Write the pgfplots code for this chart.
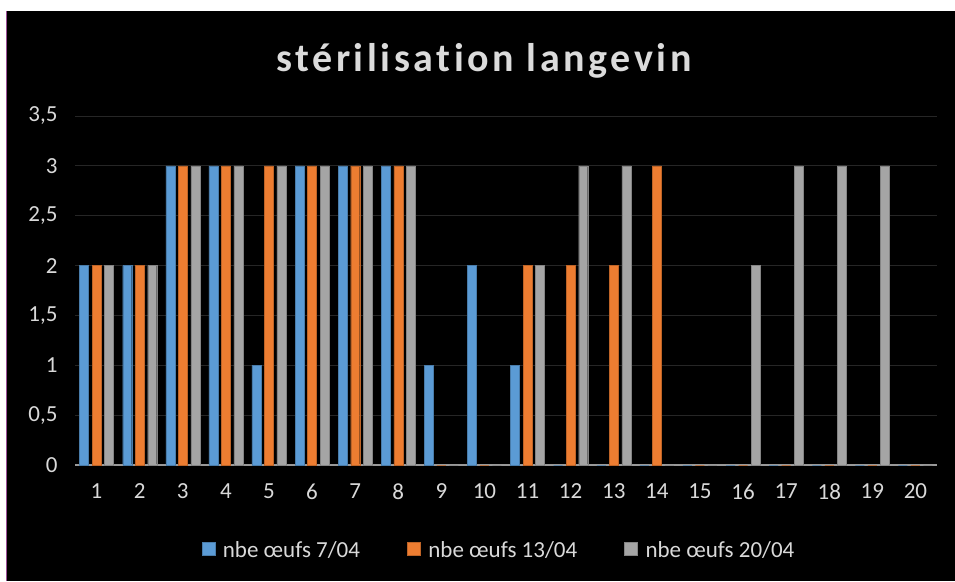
\documentclass[border=0pt]{standalone}
\usepackage{pgfplots}
\pgfplotsset{compat=1.18}
\usepackage{fontspec}
\setmainfont{Carlito}
\newfontfamily\titlefont[LetterSpace=9,Ligatures={NoCommon}]{Carlito}
\definecolor{cblue}{HTML}{5B9BD5}
\definecolor{corange}{HTML}{ED7D31}
\definecolor{cgray}{HTML}{A5A5A5}
\definecolor{ctext}{HTML}{D9D9D9}
\definecolor{cgrid}{HTML}{262626}
\definecolor{cframe}{HTML}{9B4F96}
\begin{document}
\begin{tikzpicture}[x=1pt,y=1pt]
\fill[white] (0,0) rectangle (955,581);
\fill[black] (6,0) rectangle (955,570);
\draw[cframe, line width=1pt] (6.5,0) -- (6.5,570);
\node[text=ctext!95!white, font=\titlefont\fontsize{40}{46}\selectfont\bfseries] at (484,520) {stérilisation langevin};
\begin{axis}[
  at={(75pt,116pt)}, anchor=south west,
  scale only axis, width=862pt, height=349pt,
  xmin=0.5, xmax=20.5, ymin=0, ymax=3.5,
  ybar=3.5pt, bar width=9pt,
  axis line style={draw=none},
  xtick={1,...,20}, ytick={0,0.5,...,3.5},
  major tick length=0pt,
  ymajorgrids, grid style={cgrid, line width=1pt},
  tick label style={text=ctext, font=\fontsize{23}{27}\selectfont},
  /pgf/number format/assume math mode=true,
  /pgf/number format/use comma,
  yticklabel style={/pgf/number format/fixed, /pgf/number format/precision=1},
  xticklabel style={yshift=-15pt},
  yticklabel style={xshift=-14pt},
  legend columns=3,
  legend style={at={(424pt,-85pt)}, anchor=center, draw=none, fill=none,
    text=ctext, font=\fontsize{23}{27}\selectfont,
    /tikz/every even column/.append style={column sep=45pt},
    /tikz/every odd column/.append style={column sep=6pt}},
  legend image code/.code={\fill[#1] (0pt,-5pt) rectangle (13pt,8pt);},
  extra y ticks={0}, extra y tick labels={},
  extra y tick style={grid style={color=gray!80, line width=1.5pt}},
]
\addplot[fill=cblue, draw=cblue!80!black, line width=0.3pt] coordinates {
 (1,2) (2,2) (3,3) (4,3) (5,1) (6,3) (7,3) (8,3) (9,1) (10,2)
 (11,1) (12,0) (13,0) (14,0) (15,0) (16,0) (17,0) (18,0) (19,0) (20,0)};
\addplot[fill=corange, draw=corange!80!black, line width=0.3pt] coordinates {
 (1,2) (2,2) (3,3) (4,3) (5,3) (6,3) (7,3) (8,3) (9,0) (10,0)
 (11,2) (12,2) (13,2) (14,3) (15,0) (16,0) (17,0) (18,0) (19,0) (20,0)};
\addplot[fill=cgray, draw=cgray!80!black, line width=0.3pt] coordinates {
 (1,2) (2,2) (3,3) (4,3) (5,3) (6,3) (7,3) (8,3) (9,0) (10,0)
 (11,2) (12,3) (13,3) (14,0) (15,0) (16,2) (17,3) (18,3) (19,3) (20,0)};
\legend{nbe œufs 7/04, nbe œufs 13/04, nbe œufs 20/04}
\end{axis}
\end{tikzpicture}
\end{document}
